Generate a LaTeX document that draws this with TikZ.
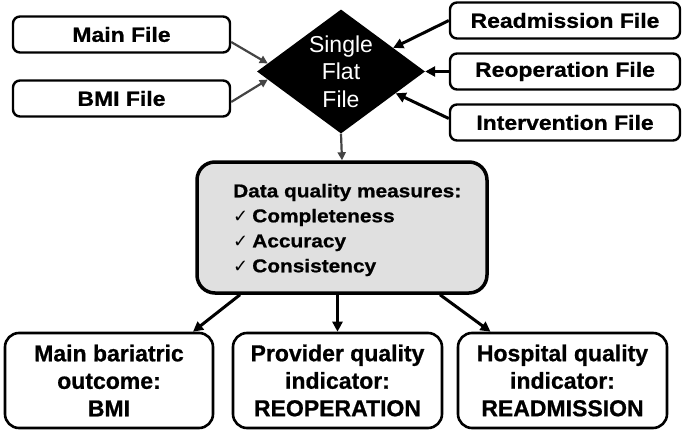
\documentclass[tikz,border=0pt]{standalone}
\usepackage{fontspec}
\setmainfont{Liberation Sans}[BoldFeatures={FakeBold=0.8}]
\newfontfamily\widefont{Liberation Sans}[FakeStretch=1.12, BoldFeatures={FakeBold=0.8}]
\newfontfamily\symfont{DejaVu Sans}
\usetikzlibrary{shapes.geometric,arrows.meta,calc}
\definecolor{arrgray}{HTML}{444444}
\definecolor{boxfill}{HTML}{E0E0E0}
\tikzset{
  filebox/.style={draw=black, line width=2.4pt, rounded corners=7pt, minimum width=217pt,
    minimum height=36pt, inner sep=0pt, font=\widefont\bfseries\fontsize{20.5}{24}\selectfont},
  outbox/.style={draw=black, line width=2.6pt, rounded corners=14pt, minimum width=208pt,
    minimum height=95pt, inner sep=0pt, align=center, font=\bfseries\fontsize{23}{27.5}\selectfont},
  databox/.style={draw=black, line width=3.5pt, rounded corners=18pt, fill=boxfill,
    minimum width=290pt, minimum height=131pt, inner sep=0pt},
  grayarrow/.style={draw=arrgray, line width=2.2pt, -{Triangle[length=8pt,width=8pt]}},
  blackarrow/.style={draw=black, line width=3pt, -{Triangle[length=10pt,width=10pt]}},
}
\newcommand{\tk}{{\symfont\mdseries\fontsize{18}{25}\selectfont ✓}\hspace{4pt}}
\begin{document}
\begin{tikzpicture}[x=1pt,y=-1pt]
\useasboundingbox (0,0) rectangle (685,433);

% input files
\node[filebox] (mainf) at (121.5,34.5) {Main File};
\node[filebox] (bmif) at (121.5,98.5) {BMI File};
\node[filebox, minimum width=230pt] (readf) at (565,20.5) {Readmission File};
\node[filebox, minimum width=230pt] (reopf) at (565,71.5) {Reoperation File};
\node[filebox, minimum width=230pt] (intf) at (565,122.5) {Intervention File};

% diamond
\node[diamond, fill=black, minimum width=168pt, minimum height=124pt, inner sep=0pt] (dia) at (341,71.5) {};
\node[font=\fontsize{23}{27.5}\selectfont, text=white, align=center, inner sep=0pt] (diatext) at (dia.center) {Single\\Flat\\File};

% data quality box
\node[databox] (data) at (342,227.5) {};
\node[anchor=west, align=left, inner sep=0pt,
      font=\widefont\bfseries\fontsize{18.6}{25}\selectfont] (dqtext) at (233,230)
  {Data quality measures:\\ \tk Completeness\\ \tk Accuracy\\ \tk Consistency};

% outputs
\node[outbox] (b1) at (109,380.5) {Main bariatric\\outcome:\\BMI};
\node[outbox, minimum width=209pt] (b2) at (337.5,380.5) {Provider quality\\indicator:\\REOPERATION};
\node[outbox, minimum width=209pt] (b3) at (562.5,380.5) {Hospital quality\\indicator:\\READMISSION};

% connectors
\draw[grayarrow] ([yshift=-7.5pt]mainf.east) -- ($(dia.west)!0.13!(dia.north)$);
\draw[grayarrow] ([yshift=-3.5pt]bmif.east) -- ($(dia.west)!0.13!(dia.south)$);
\draw[blackarrow] (readf.west) -- ($(dia.east)!0.38!(dia.north)$);
\draw[blackarrow] (reopf.west) -- (dia.east);
\draw[blackarrow] ([yshift=4pt]intf.west) -- ($(dia.east)!0.35!(dia.south)$);
\draw[grayarrow] (dia.south) -- (data.north);
\draw[blackarrow] ([xshift=-102pt]data.south) -- ([xshift=84pt]b1.north);
\draw[blackarrow] (b2.north |- data.south) -- (b2.north);
\draw[blackarrow] ([xshift=98pt]data.south) -- ([xshift=-72pt]b3.north);
\end{tikzpicture}
\end{document}
